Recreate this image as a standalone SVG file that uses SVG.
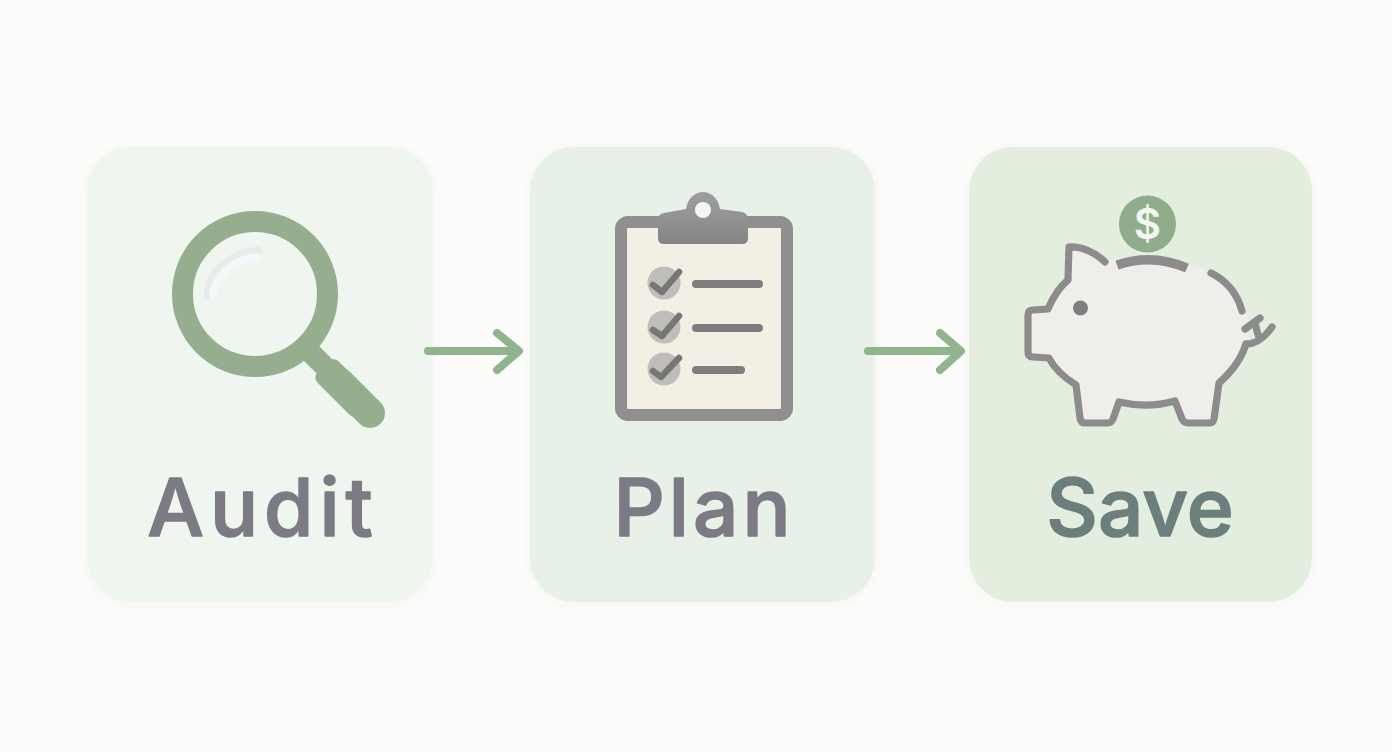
<svg xmlns="http://www.w3.org/2000/svg" width="1392" height="752" viewBox="0 0 1392 752">
<defs>
<filter id="soft" x="-20%" y="-20%" width="140%" height="140%"><feGaussianBlur stdDeviation="5"/></filter>
<linearGradient id="clip" x1="0" y1="0" x2="0" y2="1"><stop offset="0" stop-color="#9d9e9d"/><stop offset="1" stop-color="#858585"/></linearGradient>
</defs>
<style>
.label{font-family:"Inter","Liberation Sans",sans-serif;font-size:80px;font-weight:500;text-anchor:middle;stroke-width:1.600;stroke-linejoin:round}
.arrow{fill:none;stroke:#90b58d;stroke-width:8;stroke-linecap:round;stroke-linejoin:round}
.bar{stroke:#7e7c7c;stroke-width:8;stroke-linecap:round;fill:none}
.tick{stroke:#787575;stroke-width:6.500;stroke-linecap:round;stroke-linejoin:round;fill:none}
.ol{fill:none;stroke:#8c8c8c;stroke-linecap:round;stroke-linejoin:round;stroke-width:7.200}
.halo{fill:#f7f8f6;filter:url(#soft)}
</style>
<rect width="1392" height="752" fill="#fcfcfb"/>
<g id="audit">
<rect class="halo" x="83" y="145" width="354" height="462" rx="46"/>
<rect x="87" y="147" width="346" height="455" rx="44" fill="#eff5ef"/>
<circle cx="255" cy="294" r="72.500" fill="none" stroke="#96ae8e" stroke-width="21"/>
<path d="M208 296C208 274 228 254 258 251" fill="none" stroke="#e6ecea" stroke-width="9" stroke-linecap="round"/>
<path d="M213 296C214 276 234 258 258 257" fill="none" stroke="#f5f8fa" stroke-width="7.500" stroke-linecap="round"/>
<path d="M310 352L332 374" stroke="#96ae8e" stroke-width="21" fill="none"/>
<rect x="323" y="352" width="60" height="30" rx="7" transform="rotate(45 323 367)" fill="#96ae8e"/>
<path d="M340 383L370 413" stroke="#96ae8e" stroke-width="30" stroke-linecap="round" fill="none"/>
<text class="label" x="263" y="536" fill="#7c7b85" stroke="#7c7b85" letter-spacing="6">Audit</text>
</g>
<g id="plan">
<rect class="halo" x="526" y="145" width="353" height="462" rx="46"/>
<rect x="530" y="147" width="345" height="455" rx="44" fill="#e8f1e8"/>
<rect x="621" y="222" width="166" height="193" rx="7" fill="#f3efe4" stroke="#8f8f8f" stroke-width="12"/>
<path fill="url(#clip)" d="M658 220Q658 214 664 213L686 209C688 197 696 192 703 192C710 192 718 197 720 209L742 212Q748 213 748 220V238Q748 244 742 244H664Q658 244 658 238Z"/>
<circle cx="703" cy="210" r="8" fill="#f5f6f4"/>
<circle cx="664" cy="283" r="16.500" fill="#bfbdba"/>
<circle cx="664" cy="327" r="16.500" fill="#bfbdba"/>
<circle cx="664" cy="369" r="16.500" fill="#bfbdba"/>
<path class="tick" d="M653 285L662 292L679 272"/>
<path class="tick" d="M653 330L662 336L679 316"/>
<path class="tick" d="M653 371L661 377L679 358"/>
<path class="bar" d="M696 284H759"/>
<path class="bar" d="M696 328H759"/>
<path class="bar" d="M696 370H741"/>
<text class="label" x="704" y="536" fill="#7c7b85" stroke="#7c7b85" letter-spacing="4">Plan</text>
</g>
<g id="save">
<rect class="halo" x="965" y="145" width="351" height="462" rx="46"/>
<rect x="969" y="147" width="343" height="455" rx="44" fill="#e3eede"/>
<circle cx="1147.500" cy="224" r="28.500" fill="#8fac8c"/>
<text x="1147.500" y="239" font-family="Inter,'Liberation Sans',sans-serif" font-size="42" font-weight="600" text-anchor="middle" fill="#f2f6f0">$</text>
<path d="M1105 262C1095 252 1080 246 1069 247L1068 280C1056 290 1051 302 1048 309L1033 310Q1028 310 1028 315V352Q1028 357 1033 357L1049 358C1055 370 1065 378 1076 385L1080 418Q1081 423 1085 423H1108Q1111 423 1113 419L1119 402C1136 406 1157 406 1175 401L1182 419Q1184 423 1188 423H1210Q1213 423 1214 419L1219 383C1230 373 1240 362 1246 342C1252 325 1248 300 1211 273C1180 258 1130 252 1105 262Z" fill="#f0eeeb"/>
<path class="ol" d="M1105 262C1095 252 1080 246 1069 247L1068 280C1056 290 1051 302 1048 309L1033 310Q1028 310 1028 315V352Q1028 357 1033 357L1049 358C1055 370 1065 378 1076 385L1080 418Q1081 423 1085 423H1108Q1111 423 1113 419L1119 402C1136 406 1157 406 1175 401L1182 419Q1184 423 1188 423H1210Q1213 423 1214 419L1219 383C1230 373 1240 362 1246 344"/>
<path d="M1117 265Q1152 253 1187 268" fill="none" stroke="#8d8c8c" stroke-width="9.500"/>
<path class="ol" d="M1211 273Q1235 285 1242 311"/>
<path class="ol" d="M1246 344Q1260 344 1272 327M1245 329L1260 318M1255 323L1258 335"/>
<circle cx="1080.500" cy="308" r="7.500" fill="#7f7d7d"/>
<text class="label" x="1140" y="536" fill="#6c7f7c" stroke="#6c7f7c">Save</text>
</g>
<g id="connectors">
<path class="arrow" d="M428 351H518M497 333L519 351L497 370"/>
<path class="arrow" d="M868 351H960M940 333L961 351L940 370"/>
</g>
</svg>
